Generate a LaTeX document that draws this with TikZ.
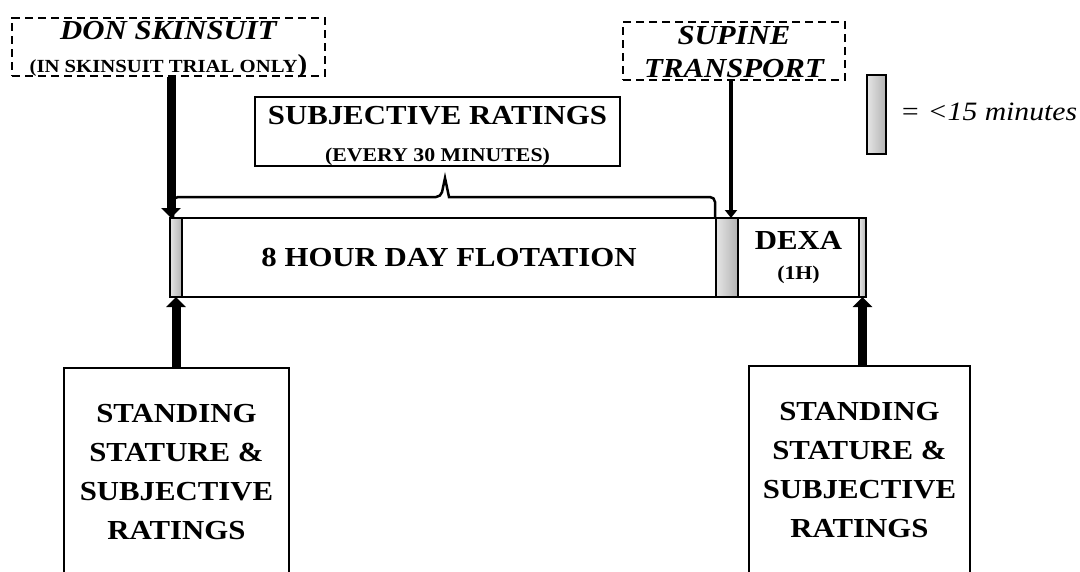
\documentclass[tikz,border=0pt]{standalone}
\usepackage{fontspec}
\setmainfont[FakeStretch=1.12]{Liberation Serif}
\usetikzlibrary{arrows.meta,positioning}

\newcommand{\kleinschrift}{\upshape\fontsize{19.5}{21}\selectfont}

\begin{document}
\begin{tikzpicture}[x=1pt,y=-1pt,
        kurz/.style={draw,line width=1.5pt,minimum height=79pt,inner sep=0pt,outer sep=0pt,
            left color=gray!20,right color=gray!60},
        phase/.style={draw,line width=1.5pt,minimum height=79pt,inner sep=0pt,outer sep=0pt,
            align=center,font=\bfseries\fontsize{27.5}{35}\selectfont},
        kasten/.style={draw,line width=1.5pt,align=center,font=\bfseries\fontsize{27.5}{39}\selectfont},
        hinweis/.style={draw,dash pattern=on 8pt off 5pt,line width=1.2pt,align=center,
            inner xsep=0pt,inner ysep=0pt,font=\bfseries\itshape\fontsize{27.5}{35}\selectfont},
        pfeil/.style={->,line width=9pt},
        pfeil duenn/.style={-{Triangle[length=8pt,width=12pt]},line width=4.5pt},
        klammer/.style={line width=2.5pt},
        >={Triangle[length=10pt,width=19pt]} % Pfeilspitzen
        ]
            \useasboundingbox (0,0) rectangle (1080,571);
            \clip (0,0) rectangle (1080,571);

            % Zeitstrahl
            \node[kurz, minimum width=12pt, anchor=north west] (G1) at (170,218) {};
            \node[phase, minimum width=534pt, right=0pt of G1] (F) {8 HOUR DAY FLOTATION};
            \node[kurz, minimum width=22pt, right=0pt of F] (G2) {};
            \node[phase, minimum width=121pt, right=0pt of G2] (D) {DEXA\\[-5pt]{\kleinschrift\bfseries (1H)}};
            \node[kurz, minimum width=7pt, right=0pt of D] (G3) {};

            % Hinweise oben
            \node[hinweis, minimum width=313pt] (DON) at (168.5,47)
                {\rule{0pt}{21pt}DON SKINSUIT\\[-2pt]{\upshape\fontsize{18.5}{20}\selectfont
                 (IN SKINSUIT TRIAL ONLY\smash{\fontsize{26}{26}\selectfont)}}};
            \node[hinweis, minimum width=222pt] (SUP) at (734,51)
                {\rule{0pt}{22pt}SUPINE\\[-2pt]TRANSPORT\rule[-3pt]{0pt}{3pt}};
            \node[kasten, minimum width=365pt, inner ysep=0pt] (SR) at (437.5,131.5)
                {\rule{0pt}{28pt}SUBJECTIVE RATINGS\\[-2pt]{\kleinschrift (EVERY 30 MINUTES)}};

            % Legende
            \node[kurz, minimum width=19pt] (LG) at (876.5,114.5) {};
            \node[anchor=base west, inner sep=0pt, font=\itshape\fontsize{26.5}{30}\selectfont] (LT)
                at ([xshift=14pt,yshift=-5.5pt]LG.east) {= <15 minutes};

            % Messungen unten
            \node[kasten, minimum width=225pt, minimum height=208pt, anchor=north] (S1) at (176.5,367)
                {STANDING\\STATURE \&\\SUBJECTIVE\\RATINGS};
            \node[kasten, minimum width=221pt, minimum height=208pt, anchor=north] (S2) at (859.5,365)
                {STANDING\\STATURE \&\\SUBJECTIVE\\RATINGS};

            % Pfeile
            \coordinate (DA) at ([xshift=1pt]G1.north west);
            \coordinate (SA) at ([xshift=4pt]G2.north);
            \draw[pfeil] (DA |- DON.south) -- (DA);
            \draw[pfeil duenn] (SA |- SUP.south) -- (SA);
            \draw[pfeil] (S1.north -| G1.south) -- (G1.south);
            \draw[pfeil] (S2.north -| G3.south) -- (G3.south);

            % Klammer
            \coordinate (KL) at ([xshift=3pt,yshift=1pt]G1.north west);
            \coordinate (KR) at ([xshift=-1pt,yshift=1pt]G2.north west);
            \draw[klammer] (KL) [rounded corners=5pt] |- (441,197) [sharp corners] -- (445,178)
                    -- (449,197) [rounded corners=5pt] -| (KR);

        \end{tikzpicture}
\end{document}
